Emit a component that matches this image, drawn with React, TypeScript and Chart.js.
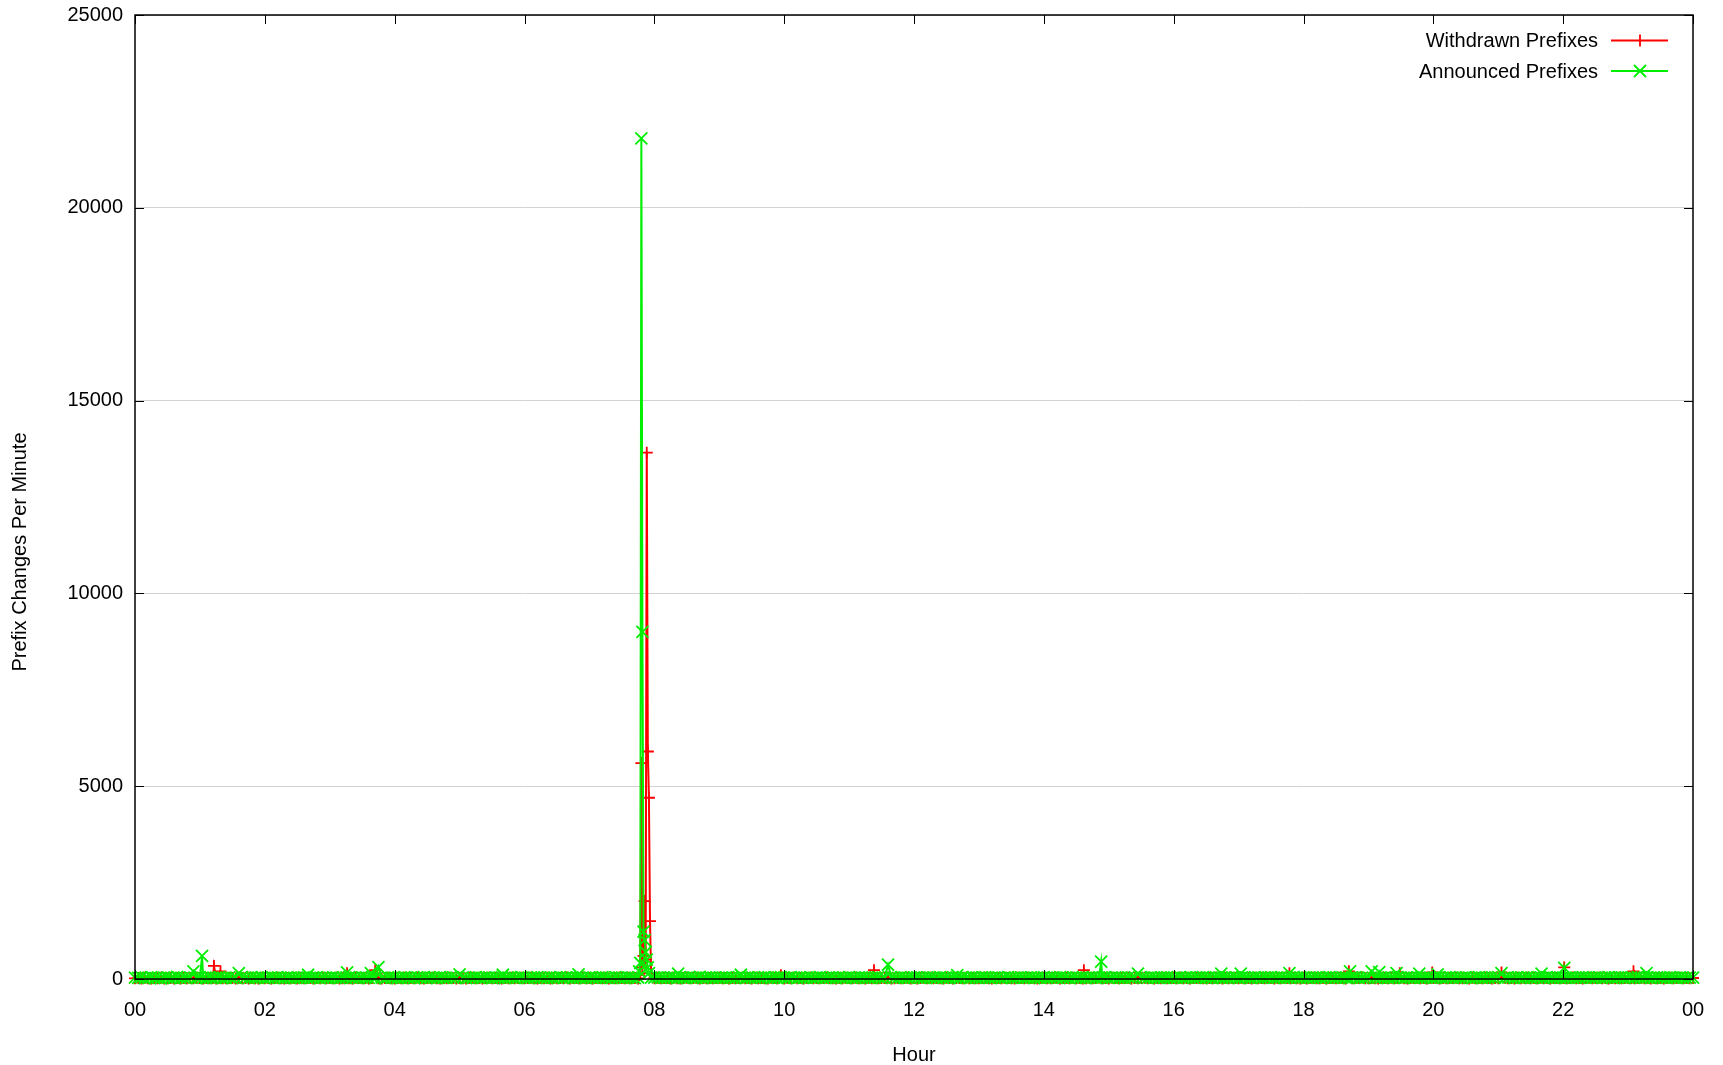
import React, { useEffect, useRef } from "react";
import { Chart, registerables } from "chart.js";

Chart.register(...registerables);

// ---------- data ----------
const X_TICK_LABELS = ["00", "02", "04", "06", "08", "10", "12", "14", "16", "18", "20", "22", "00"];
const Y_TICK_STEP = 5000;
const Y_MAX = 25000;
const X_MAX_MIN = 1440;
const BASE_STEP_MIN = 3;

// Announced prefixes per minute, sampled every 3 minutes (baseline)
const announcedBase = [
  35, 28, 41, 22, 30, 47, 25, 33, 19, 38, 44, 27, 31, 52, 24, 36, 29, 40, 33, 26,
  45, 30, 22, 39, 28, 34, 50, 26, 31, 43, 21, 37, 29, 46, 33, 25, 40, 28, 35, 48,
  24, 32, 41, 27, 36, 30, 22, 45, 33, 29, 38, 26, 42, 31, 27, 35, 49, 23, 37, 30,
  28, 44, 33, 25, 39, 31, 47, 27, 34, 22, 40, 36, 29, 51, 26, 33, 38, 24, 43, 30,
  37, 26, 32, 45, 28, 35, 23, 41, 30, 48, 27, 34, 39, 25, 46, 31, 28, 36, 42, 29,
  33, 40, 24, 37, 29, 50, 32, 27, 43, 35, 26, 38, 31, 45, 22, 36, 41, 28, 33, 47,
  30, 25, 39, 34, 46, 28, 37, 23, 42, 31, 35, 49, 27, 40, 33, 26, 44, 30, 38, 24,
  41, 29, 36, 27, 45, 32, 38, 25, 50, 30, 34, 28, 43, 36, 22, 39, 31, 47, 26, 35,
  38, 44, 27, 33, 29, 41, 35, 24, 46, 32, 28, 40, 37, 30, 52, 26, 34, 43, 29, 36,
  27, 35, 42, 30, 38, 25, 47, 33, 29, 44, 36, 28, 40, 31, 49, 34, 26, 39, 32, 45,
  33, 28, 46, 37, 24, 40, 31, 35, 43, 27, 38, 50, 29, 36, 32, 44, 25, 41, 34, 30,
  48, 31, 26, 39, 35, 42, 28, 37, 33, 45, 24, 36, 30, 47, 38, 27, 43, 32, 29, 40,
  35, 42, 30, 27, 44, 33, 39, 26, 48, 31, 36, 29, 41, 34, 25, 46, 37, 30, 43, 28,
  32, 39, 45, 28, 36, 30, 41, 25, 34, 49, 27, 38, 33, 44, 29, 37, 42, 26, 35, 31,
  44, 27, 33, 40, 29, 47, 32, 36, 24, 42, 38, 30, 45, 28, 35, 41, 26, 39, 34, 48,
  29, 36, 42, 31, 38, 25, 44, 33, 40, 27, 47, 34, 30, 39, 36, 28, 43, 32, 45, 26,
  37, 31, 48, 29, 35, 42, 27, 39, 33, 46, 30, 36, 25, 41, 38, 32, 44, 28, 35, 40,
  26, 43, 34, 38, 30, 45, 36, 28, 41, 33, 49, 29, 37, 42, 31, 35, 27, 46, 33, 39,
  41, 30, 36, 27, 44, 32, 39, 34, 46, 28, 37, 31, 43, 35, 26, 40, 48, 30, 36, 29,
  34, 45, 28, 39, 33, 41, 26, 37, 30, 47, 35, 29, 42, 38, 31, 44, 27, 36, 40, 33,
  30, 38, 43, 27, 35, 46, 31, 40, 28, 36, 44, 33, 25, 39, 45, 32, 37, 29, 42, 34,
  47, 33, 29, 41, 36, 28, 43, 35, 31, 48, 26, 38, 34, 40, 30, 45, 37, 27, 39, 32,
  36, 29, 44, 32, 38, 27, 45, 34, 40, 31, 36, 43, 28, 35, 47, 30, 39, 33, 41, 26,
  33, 40, 31, 46, 29, 37, 42, 28, 35, 44, 32, 38, 27, 45, 34, 30, 41, 36, 29, 38,
  35,
];

// Withdrawn prefixes per minute, sampled every 3 minutes (baseline)
const withdrawnBase = [
  18, 25, 12, 30, 21, 15, 27, 19, 33, 14, 22, 28, 16, 24, 11, 29, 20, 26, 17, 31,
  23, 14, 29, 19, 26, 12, 32, 21, 17, 27, 24, 13, 30, 18, 25, 15, 28, 22, 16, 34,
  20, 27, 15, 24, 31, 18, 13, 26, 22, 29, 16, 35, 19, 23, 28, 14, 25, 21, 30, 17,
  26, 19, 33, 15, 22, 28, 20, 14, 30, 24, 18, 27, 12, 25, 32, 21, 16, 29, 23, 19,
  14, 28, 22, 31, 17, 25, 19, 36, 21, 15, 27, 23, 30, 18, 13, 26, 20, 33, 24, 16,
  29, 21, 16, 25, 34, 19, 27, 14, 23, 31, 17, 26, 22, 12, 28, 20, 35, 18, 24, 30,
  17, 24, 30, 20, 13, 27, 22, 33, 16, 25, 19, 29, 21, 36, 15, 23, 28, 18, 31, 22,
  25, 15, 28, 23, 19, 32, 14, 26, 21, 30, 24, 17, 34, 20, 27, 13, 29, 22, 18, 26,
  21, 33, 18, 27, 24, 16, 30, 22, 15, 28, 35, 19, 25, 31, 14, 23, 20, 27, 17, 29,
  30, 17, 25, 13, 29, 21, 26, 34, 19, 24, 16, 31, 22, 28, 20, 15, 33, 25, 18, 23,
  16, 29, 22, 35, 18, 26, 13, 24, 31, 20, 27, 17, 23, 30, 25, 19, 14, 28, 21, 32,
  24, 20, 31, 17, 27, 15, 33, 21, 26, 18, 29, 23, 36, 14, 22, 28, 19, 25, 30, 16,
  28, 14, 23, 30, 20, 34, 18, 25, 22, 16, 31, 27, 13, 24, 29, 21, 35, 17, 26, 20,
  19, 26, 35, 22, 15, 28, 24, 17, 32, 25, 20, 14, 30, 23, 18, 33, 26, 21, 16, 29,
  33, 22, 17, 26, 30, 13, 25, 29, 19, 34, 21, 27, 15, 22, 31, 18, 24, 36, 20, 25,
  15, 31, 24, 18, 28, 23, 35, 16, 27, 20, 25, 32, 19, 29, 14, 26, 22, 30, 17, 24,
  27, 18, 30, 21, 25, 16, 29, 23, 34, 17, 22, 28, 20, 33, 26, 15, 31, 19, 24, 28,
  22, 35, 19, 28, 14, 31, 20, 26, 18, 30, 23, 16, 27, 21, 34, 25, 17, 29, 22, 13,
  31, 16, 26, 33, 22, 19, 28, 15, 24, 29, 18, 32, 25, 14, 27, 20, 30, 23, 36, 19,
  18, 27, 21, 15, 32, 24, 17, 30, 22, 26, 35, 20, 13, 28, 24, 31, 19, 25, 16, 28,
  25, 30, 14, 27, 19, 29, 23, 34, 17, 21, 28, 16, 33, 22, 26, 18, 30, 24, 15, 27,
  20, 23, 32, 18, 26, 14, 30, 21, 28, 35, 19, 24, 17, 31, 22, 27, 16, 29, 25, 20,
  29, 17, 24, 36, 21, 27, 15, 25, 30, 18, 23, 33, 20, 26, 14, 28, 22, 31, 19, 24,
  23, 28, 18, 25, 31, 20, 34, 16, 27, 22, 29, 15, 26, 32, 19, 24, 30, 17, 28, 21,
  26,
];

// Notable per-minute readings (minute of day -> value)
const announcedPeakMinutes = [
  54, 62, 96, 160, 196, 218, 225, 300, 340, 410,
  466, 467, 468, 469, 470, 471, 472, 473, 474, 475,
  502, 560, 696, 760, 893, 927, 1004, 1022, 1067, 1123,
  1143, 1150, 1166, 1187, 1204, 1263, 1300, 1321, 1397,
];
const announcedPeakValues = [
  200, 600, 150, 110, 170, 150, 310, 120, 110, 120,
  200, 415, 21800, 9000, 1230, 1010, 700, 500, 300, 150,
  140, 110, 370, 100, 450, 140, 140, 140, 150, 200,
  200, 180, 150, 140, 120, 150, 140, 290, 150,
];
const withdrawnPeakMinutes = [
  73, 79, 196, 222,
  466, 467, 468, 469, 470, 471, 472, 473, 474, 475, 476, 477,
  597, 683, 877, 1067, 1122, 1169, 1199, 1263, 1321, 1385,
];
const withdrawnPeakValues = [
  340, 200, 150, 230,
  100, 150, 5600, 300, 600, 2020, 500, 13650, 5900, 4700, 1500, 150,
  100, 230, 230, 150, 200, 150, 170, 170, 300, 200,
];

const SERIES_LABELS = ["Withdrawn Prefixes", "Announced Prefixes"];
const SERIES_COLORS = ["#ff0000", "#00ee00"];
const X_TITLE = "Hour";
const Y_TITLE = "Prefix Changes Per Minute";

// ---------- helpers ----------
function buildSeries(base: number[], peakMin: number[], peakVal: number[]) {
  const m = new Map<number, number>();
  base.forEach((v, i) => m.set(i * BASE_STEP_MIN, v));
  peakMin.forEach((mm, i) => m.set(mm, peakVal[i]));
  return Array.from(m.entries())
    .sort((a, b) => a[0] - b[0])
    .map(([x, y]) => ({ x, y }));
}

const FONT = "'Liberation Sans', Arial, Helvetica, sans-serif";
const W = 1723;
const H = 1065;
const PLOT_LEFT = 135;
const PLOT_RIGHT = 1693;
const PLOT_TOP = 15;
const PLOT_BOTTOM = 979;

const framePlugin = {
  id: "gnuplotFrame",
  afterDatasetsDraw(chart: any) {
    const { ctx, chartArea } = chart;
    const { left, right, top, bottom } = chartArea;
    const xs = chart.scales.x;
    const ys = chart.scales.y;
    ctx.save();
    ctx.strokeStyle = "#000";
    ctx.lineWidth = 1.5;
    ctx.strokeRect(left, top, right - left, bottom - top);
    const tl = 9;
    ctx.beginPath();
    ys.ticks.forEach((t: any) => {
      const y = Math.round(ys.getPixelForValue(t.value)) + 0.5;
      ctx.moveTo(left, y);
      ctx.lineTo(left + tl, y);
      ctx.moveTo(right, y);
      ctx.lineTo(right - tl, y);
    });
    xs.ticks.forEach((t: any) => {
      const x = Math.round(xs.getPixelForValue(t.value)) + 0.5;
      ctx.moveTo(x, bottom);
      ctx.lineTo(x, bottom - tl);
      ctx.moveTo(x, top);
      ctx.lineTo(x, top + tl);
    });
    ctx.lineWidth = 1;
    ctx.stroke();
    ctx.restore();
  },
  afterDraw(chart: any) {
    const { ctx, chartArea } = chart;
    ctx.save();
    ctx.fillStyle = "#000";
    ctx.font = `20px ${FONT}`;
    // axis titles
    ctx.textAlign = "center";
    ctx.textBaseline = "middle";
    ctx.fillText(X_TITLE, (chartArea.left + chartArea.right) / 2, 1055);
    ctx.save();
    ctx.translate(20, 552);
    ctx.rotate(-Math.PI / 2);
    ctx.fillText(Y_TITLE, 0, 0);
    ctx.restore();
    // legend
    const rows = [40.5, 71];
    chart.data.datasets.forEach((ds: any, i: number) => {
      const y = rows[i];
      ctx.textAlign = "right";
      ctx.textBaseline = "middle";
      ctx.fillStyle = "#000";
      ctx.fillText(ds.label, 1598, y + 1);
      ctx.strokeStyle = ds.borderColor;
      ctx.lineWidth = 1.8;
      ctx.beginPath();
      ctx.moveTo(1611, y);
      ctx.lineTo(1668, y);
      const cx = 1640;
      if (ds.pointStyle === "cross") {
        ctx.moveTo(cx, y - 6);
        ctx.lineTo(cx, y + 6);
      } else {
        ctx.moveTo(cx - 6, y - 6);
        ctx.lineTo(cx + 6, y + 6);
        ctx.moveTo(cx - 6, y + 6);
        ctx.lineTo(cx + 6, y - 6);
      }
      ctx.stroke();
    });
    ctx.restore();
  },
};

export default function App() {
  const ref = useRef<HTMLCanvasElement | null>(null);

  useEffect(() => {
    if (!ref.current) return;
    const withdrawn = buildSeries(withdrawnBase, withdrawnPeakMinutes, withdrawnPeakValues);
    const announced = buildSeries(announcedBase, announcedPeakMinutes, announcedPeakValues);
    const chart = new Chart(ref.current, {
      type: "line",
      data: {
        datasets: [
          {
            label: SERIES_LABELS[0],
            data: withdrawn,
            borderColor: SERIES_COLORS[0],
            backgroundColor: SERIES_COLORS[0],
            borderWidth: 2,
            pointStyle: "cross",
            pointRadius: 6,
            pointHoverRadius: 6,
            pointBorderWidth: 1.8,
            pointBorderColor: SERIES_COLORS[0],
            tension: 0,
            fill: false,
            clip: false as any,
            order: 1,
          },
          {
            label: SERIES_LABELS[1],
            data: announced,
            borderColor: SERIES_COLORS[1],
            backgroundColor: SERIES_COLORS[1],
            borderWidth: 2,
            pointStyle: "crossRot",
            pointRadius: 8.5,
            pointHoverRadius: 8.5,
            pointBorderWidth: 1.8,
            pointBorderColor: SERIES_COLORS[1],
            tension: 0,
            fill: false,
            clip: false as any,
            order: 0,
          },
        ] as any,
      },
      options: {
        animation: false,
        responsive: true,
        maintainAspectRatio: false,
        events: [],
        layout: { padding: { left: 0, top: PLOT_TOP, right: W - PLOT_RIGHT, bottom: 0 } },
        plugins: { legend: { display: false }, tooltip: { enabled: false }, title: { display: false } },
        scales: {
          x: {
            type: "linear",
            min: 0,
            max: X_MAX_MIN,
            ticks: {
              stepSize: 120,
              autoSkip: false,
              maxRotation: 0,
              padding: 19,
              color: "#000",
              font: { size: 20, family: FONT },
              callback: (v: any) => X_TICK_LABELS[Math.round(Number(v) / 120)] ?? "",
            },
            grid: { display: false, drawTicks: false },
            border: { display: false },
            afterFit: (s: any) => {
              s.height = H - PLOT_BOTTOM;
              s.paddingLeft = 0;
              s.paddingRight = 0;
            },
          },
          y: {
            type: "linear",
            min: 0,
            max: Y_MAX,
            ticks: {
              stepSize: Y_TICK_STEP,
              padding: 12,
              color: "#000",
              font: { size: 20, family: FONT },
              callback: (v: any) => String(v),
            },
            grid: { color: "#d2d2d2", lineWidth: 1, drawTicks: false },
            border: { display: false },
            afterFit: (s: any) => {
              s.width = PLOT_LEFT;
              s.paddingTop = 0;
              s.paddingBottom = 0;
            },
          },
        },
      },
      plugins: [framePlugin],
    });
    return () => chart.destroy();
  }, []);

  return (
    <div style={{ position: "fixed", left: 0, top: 0, width: W, height: H, background: "#fff" }}>
      <canvas ref={ref} />
    </div>
  );
}
